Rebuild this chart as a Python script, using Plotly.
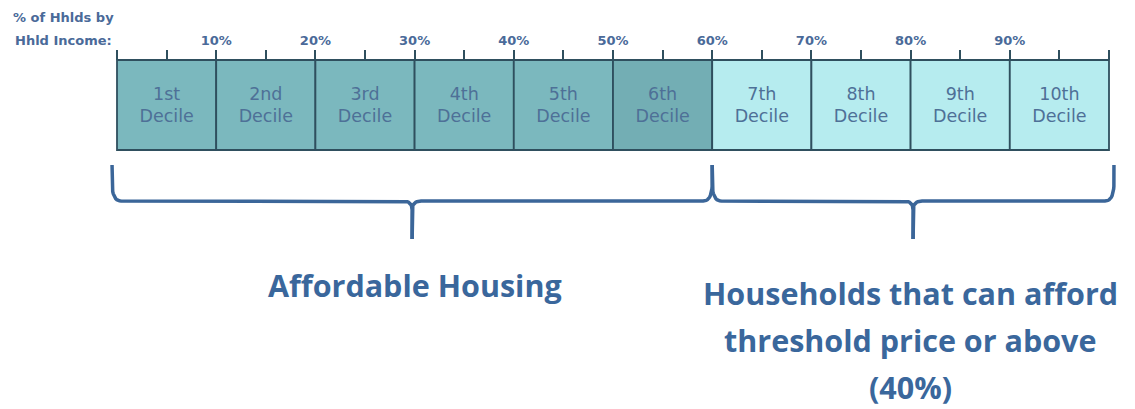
import plotly.graph_objects as go
import numpy as np

# ---------------- data ----------------
deciles = ["1st", "2nd", "3rd", "4th", "5th", "6th", "7th", "8th", "9th", "10th"]
shares = [10, 10, 10, 10, 10, 10, 10, 10, 10, 10]          # % of households per decile
tick_values = [0, 5, 10, 15, 20, 25, 30, 35, 40, 45, 50, 55, 60, 65, 70, 75, 80, 85, 90, 95, 100]
tick_labels = ["", "", "10%", "", "20%", "", "30%", "", "40%", "", "50%", "", "60%", "", "70%", "", "80%", "", "90%", "", ""]
groups = ["Affordable Housing", "Households that can afford<br>threshold price or above<br>(40%)"]
group_ranges = [(0, 60), (60, 100)]
axis_title = ["% of Hhlds by", "Hhld Income:"]

# ---------------- styles ----------------
W, H = 1135, 409
X0PX, X100PX = 117, 1109
PXU = (X100PX - X0PX) / 100.0
xr = [-X0PX / PXU, 100 + (W - X100PX) / PXU]

bar_top, bar_bot = 60, 150
fill_colors = ["#7bb8be"] * 5 + ["#73aeb4"] + ["#b6ecef"] * 4
text_col = "#4e7097"
edge_col = "#2f4f5e"
brace_col = "#3b6699"
label_col = "#3a679c"

bases = list(np.cumsum([0] + shares[:-1]))

fig = go.Figure()
fig.add_trace(go.Bar(
    orientation="h",
    y=[(bar_top + bar_bot) / 2] * len(shares),
    x=shares,
    base=bases,
    width=bar_bot - bar_top,
    marker=dict(color=fill_colors, line=dict(color=edge_col, width=1.8)),
    text=[f"{d}<br>Decile" for d in deciles],
    textposition="inside",
    insidetextanchor="middle",
    textangle=0,
    textfont=dict(family="DejaVu Sans", size=17.5, color=text_col),
    hoverinfo="skip",
    showlegend=False,
))

# curly braces
def quad(p0, p1, p2, n=12):
    t = np.linspace(0, 1, n)[:, None]
    p0, p1, p2 = map(np.array, (p0, p1, p2))
    return ((1 - t) ** 2) * p0 + 2 * (1 - t) * t * p1 + (t ** 2) * p2

def brace(xa, xb, top=165, mid=201, tip=239, r=9):
    rx = r / PXU
    xc = (xa + xb) / 2
    pts = [np.array([[xa, top]])]
    pts.append(quad((xa, mid - 2 * r), (xa, mid), (xa + rx, mid)))
    pts.append(quad((xc - rx, mid), (xc, mid), (xc, mid + r)))
    pts.append(np.array([[xc, tip]]))
    pts.append(np.array([[np.nan, np.nan]]))
    pts.append(np.array([[xc, tip]]))
    pts.append(quad((xc, mid + r), (xc, mid), (xc + rx, mid)))
    pts.append(quad((xb - rx, mid), (xb, mid), (xb, mid - 2 * r)))
    pts.append(np.array([[xb, top]]))
    p = np.vstack(pts)
    return p[:, 0], p[:, 1]

brace_pad = 0.5
for i, (a, b) in enumerate(group_ranges):
    xa = a - brace_pad if i == 0 else a
    xb = b if i == 0 else b + brace_pad
    bx, by = brace(xa, xb)
    fig.add_trace(go.Scatter(x=bx, y=by, mode="lines",
                             line=dict(color=brace_col, width=3.5),
                             hoverinfo="skip", showlegend=False))

# invisible trace for the tick axis
fig.add_trace(go.Scatter(x=[0, 100], y=[0, 0], xaxis="x2", mode="markers",
                         marker=dict(opacity=0), hoverinfo="skip", showlegend=False))

# group labels
label_y0 = [285, 293]
line_gap = 47
for (a, b), g, y0 in zip(group_ranges, groups, label_y0):
    for k, line in enumerate(g.split("<br>")):
        fig.add_annotation(x=(a + b) / 2, y=y0 + k * line_gap, xref="x", yref="y",
                           text=f"<b>{line}</b>", showarrow=False,
                           font=dict(family="Open Sans", size=30.5, color=label_col),
                           xanchor="center", yanchor="middle")

for k, t in enumerate(axis_title):
    fig.add_annotation(x=63 / W, y=1 - (18 + 22 * k) / H, xref="paper", yref="paper",
                       text=f"<b>{t}</b>", showarrow=False,
                       font=dict(family="DejaVu Sans", size=13, color="#4a6a99"),
                       xanchor="center", yanchor="middle")

fig.update_layout(
    width=W, height=H,
    margin=dict(l=0, r=0, t=0, b=0),
    paper_bgcolor="white", plot_bgcolor="white",
    barmode="overlay",
    xaxis=dict(range=xr, visible=False, fixedrange=True),
    xaxis2=dict(range=xr, overlaying="x", anchor="free", position=1 - bar_top / H,
                side="top", tickmode="array", tickvals=tick_values, ticktext=tick_labels,
                ticks="outside", ticklen=10, tickwidth=2, tickcolor=edge_col,
                showgrid=False, zeroline=False, showline=False,
                tickfont=dict(family="DejaVu Sans", size=13, color="#4a6a99", weight="bold")),
    yaxis=dict(range=[H, 0], visible=False, fixedrange=True),
)

fig.write_html("out.html")
